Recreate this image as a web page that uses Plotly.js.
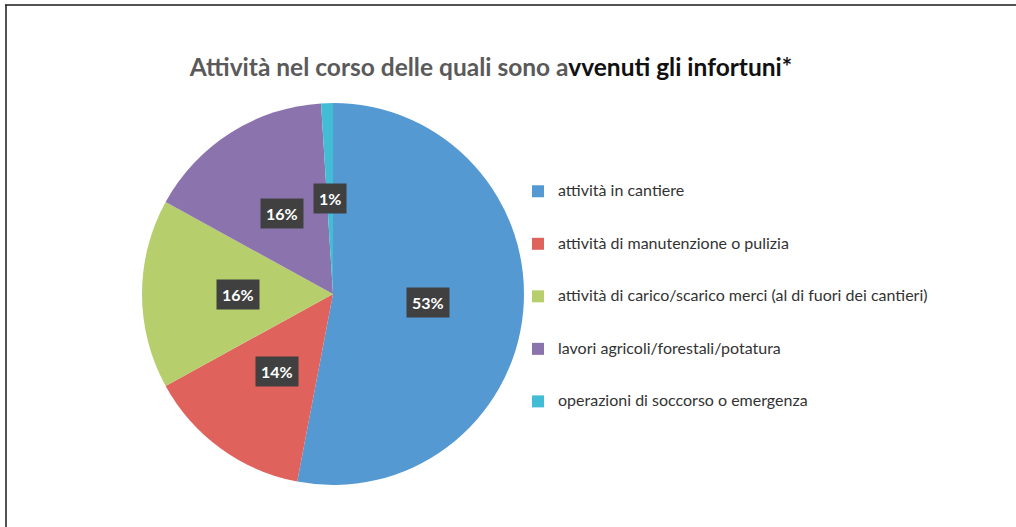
<!DOCTYPE html>
<html>
<head>
<meta charset="utf-8">
<script src="https://cdn.plot.ly/plotly-3.0.1.min.js"></script>
<style>html,body{margin:0;padding:0;background:#fff;}#chart{width:1016px;height:527px;}</style>
</head>
<body>
<div id="chart"></div>
<script>
const categories = [
  "attività in cantiere",
  "attività di manutenzione o pulizia",
  "attività di carico/scarico merci (al di fuori dei cantieri)",
  "lavori agricoli/forestali/potatura",
  "operazioni di soccorso o emergenza"
];
const values = [53, 14, 16, 16, 1];
const colors = ["#5599D2", "#E0625D", "#B6CE6C", "#8B74AE", "#42BDD5"];
const labelText = ["53%", "14%", "16%", "16%", "1%"];

const W = 1016, H = 527;
const cx = 333, cy = 294, R = 191;
const dom = {
  x: [(cx - R) / W, (cx + R) / W],
  y: [(H - cy - R) / H, (H - cy + R) / H]
};

// legend text padded with blank lines to widen spacing between entries
const legendNames = categories.map(c =>
  "\u00a0<br><span style='font-size:16px'>" + c + "</span><br>\u00a0");

const pie = {
  type: "pie",
  labels: legendNames,
  values: values,
  sort: false,
  direction: "clockwise",
  rotation: 0,
  marker: { colors: colors, line: { width: 0 } },
  textinfo: "none",
  hoverinfo: "none",
  domain: dom
};

// label positions derived from the values, in hidden axes spanning the pie
const total = values.reduce((a, b) => a + b, 0);
let acc = 0;
const annotations = values.map((v, i) => {
  const mid = (acc + v / 2) / total * 2 * Math.PI;
  acc += v;
  const r = 0.5;
  return {
    xref: "x", yref: "y",
    x: r * Math.sin(mid), y: r * Math.cos(mid),
    text: "<b>" + labelText[i] + "</b>",
    showarrow: false,
    bgcolor: "#404040",
    borderpad: 5,
    font: { family: "Lato, 'Open Sans', sans-serif", size: 16, color: "#ffffff" }
  };
});

const layout = {
  width: W, height: H,
  margin: { l: 0, r: 0, t: 0, b: 0 },
  paper_bgcolor: "#ffffff",
  plot_bgcolor: "rgba(0,0,0,0)",
  showlegend: true,
  title: {
    text: "<b><span style='color:#5a5a5a'>Attività nel corso delle quali sono a</span>vvenuti gli infortuni*</b>",
    font: { family: "Lato, 'Open Sans', sans-serif", size: 24.5, color: "#111111" },
    x: 491 / W, xanchor: "center", xref: "paper",
    y: 1 - 67 / H, yanchor: "middle", yref: "paper"
  },
  xaxis: { domain: dom.x, range: [-1, 1], visible: false, fixedrange: true },
  yaxis: { domain: dom.y, range: [-1, 1], visible: false, fixedrange: true },
  legend: {
    x: 518 / W, xanchor: "left",
    y: 1 - 160 / H, yanchor: "top",
    font: { family: "Lato, 'Open Sans', sans-serif", size: 12.7, color: "#333333" },
    tracegroupgap: 0,
    bgcolor: "rgba(0,0,0,0)"
  },
  annotations: annotations,
  shapes: [
    { type: "line", xref: "paper", yref: "paper", x0: 5 / W, x1: 1, y0: 1 - 5 / H, y1: 1 - 5 / H, line: { color: "#1a1a1a", width: 1.5 } },
    { type: "line", xref: "paper", yref: "paper", x0: 6 / W, x1: 6 / W, y0: 0, y1: 1 - 5 / H, line: { color: "#1a1a1a", width: 1.5 } }
  ]
};

Plotly.newPlot("chart", [pie], layout, { displayModeBar: false, staticPlot: true });
</script>
</body>
</html>
